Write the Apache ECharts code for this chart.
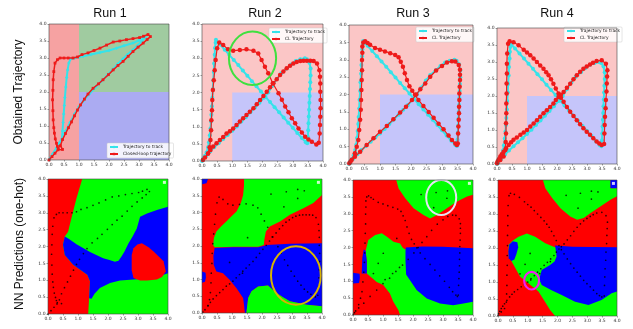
<!DOCTYPE html>
<html><head><meta charset="utf-8">
<script src="https://cdn.jsdelivr.net/npm/echarts@6/dist/echarts.min.js"></script>
<style>html,body{margin:0;padding:0;background:#fff}#c{width:633px;height:329px}</style>
</head><body><div id="c"></div>
<script>
// ---------------- DATA ----------------
const runTitles = ['Run 1', 'Run 2', 'Run 3', 'Run 4'];
const rowLabels = ['Obtained Trajectory', 'NN Predictions (one-hot)'];
const legendNamesRun1 = ['Trajectory to track', 'Closed-loop trajectory'];
const legendNamesOther = ['Trajectory to track', 'CL Trajectory'];

const refRun1 = [[0,0],[0.12,0.18],[0.25,0.36],[0.36,0.52],[0.43,0.62],[0.45,0.85],[0.47,1.1],[0.49,1.35],[0.51,1.6],[0.53,1.84],[0.56,2.15],[0.59,2.43],[0.62,2.65],[0.66,2.85],[0.72,2.97],[0.86,3.0],[1.0,3.03],[1.14,3.05],[1.4,3.1],[1.7,3.16],[2.0,3.22],[2.25,3.29],[2.5,3.36],[2.8,3.44],[3.0,3.52],[3.14,3.59],[3.22,3.62],[3.1,3.5],[2.95,3.37],[2.8,3.24],[2.62,3.1],[2.47,2.98],[2.3,2.83],[2.14,2.68],[1.95,2.5],[1.75,2.32],[1.55,2.14],[1.35,1.95],[1.15,1.74],[1.0,1.57],[0.85,1.35],[0.7,1.1],[0.55,0.85],[0.43,0.62],[0.3,0.42],[0.15,0.2],[0.02,0.02]];
const clRun1 = [[0,0],[0.1,0.1],[0.2,0.2],[0.3,0.3],[0.45,0.31],[0.38,0.42],[0.45,0.6],[0.55,0.78],[0.65,0.95],[0.75,1.12],[0.85,1.3],[0.95,1.47],[1.05,1.62],[1.18,1.79],[1.3,1.94],[1.47,2.11],[1.65,2.24],[1.8,2.36],[1.98,2.51],[2.14,2.65],[2.3,2.78],[2.47,2.9],[2.64,3.05],[2.8,3.19],[2.97,3.32],[3.14,3.44],[3.27,3.54],[3.38,3.63],[3.3,3.69],[3.15,3.64],[3.02,3.6],[2.8,3.57],[2.58,3.54],[2.36,3.5],[2.14,3.47],[1.92,3.38],[1.7,3.29],[1.5,3.22],[1.3,3.15],[1.1,3.1],[0.95,3.03],[0.8,3.0],[0.64,3.0],[0.5,3.0],[0.37,3.0],[0.28,2.95],[0.2,2.85],[0.16,2.6],[0.14,2.36],[0.13,2.05],[0.12,1.77],[0.13,1.45],[0.14,1.18],[0.16,0.95],[0.18,0.79],[0.21,0.62],[0.25,0.49],[0.28,0.4],[0.31,0.34]];

const refRuns234 = [[0,0],[0.05,0.08],[0.1,0.15],[0.15,0.25],[0.2,0.4],[0.23,0.55],[0.26,0.75],[0.28,0.95],[0.3,1.15],[0.31,1.35],[0.33,1.6],[0.34,1.85],[0.36,2.1],[0.37,2.35],[0.39,2.6],[0.4,2.85],[0.42,3.1],[0.43,3.3],[0.45,3.45],[0.46,3.54],[0.6,3.4],[0.75,3.25],[0.9,3.1],[1.05,2.95],[1.2,2.8],[1.35,2.64],[1.5,2.49],[1.65,2.33],[1.8,2.18],[1.95,2.03],[2.1,1.87],[2.25,1.72],[2.4,1.57],[2.55,1.42],[2.7,1.27],[2.85,1.12],[3.0,0.97],[3.15,0.82],[3.3,0.67],[3.43,0.55],[3.48,0.52],[3.5,0.7],[3.51,0.9],[3.52,1.1],[3.53,1.3],[3.54,1.5],[3.55,1.7],[3.56,1.9],[3.57,2.1],[3.58,2.3],[3.59,2.5],[3.59,2.7],[3.55,2.87],[3.47,2.97],[3.4,3.0],[3.25,2.97],[3.1,2.92],[2.95,2.82],[2.8,2.7],[2.62,2.56],[2.48,2.4],[2.33,2.2],[2.19,2.0],[2.05,1.85],[1.9,1.7],[1.75,1.56],[1.6,1.42],[1.45,1.28],[1.3,1.15],[1.15,1.01],[1.0,0.88],[0.85,0.76],[0.7,0.64],[0.55,0.52],[0.4,0.4],[0.27,0.28],[0.14,0.15],[0.03,0.03]];

const clRun2 = [[0.03,0.03],[0.1,0.1],[0.2,0.22],[0.25,0.4],[0.28,0.61],[0.3,0.9],[0.31,1.19],[0.33,1.48],[0.34,1.78],[0.36,2.07],[0.39,2.36],[0.42,2.65],[0.45,2.95],[0.5,3.29],[0.57,3.46],[0.7,3.39],[0.86,3.26],[1.03,3.22],[1.25,3.24],[1.47,3.26],[1.7,3.22],[1.86,3.14],[1.97,2.95],[2.08,2.75],[2.19,2.56],[2.34,2.27],[2.53,1.98],[2.64,1.79],[2.75,1.59],[2.86,1.42],[2.97,1.25],[3.08,1.1],[3.19,0.95],[3.3,0.83],[3.41,0.71],[3.52,0.63],[3.63,0.56],[3.78,0.48],[3.86,0.53],[3.89,0.8],[3.9,1.05],[3.91,1.29],[3.92,1.54],[3.92,1.78],[3.91,2.02],[3.91,2.26],[3.9,2.46],[3.88,2.65],[3.8,2.85],[3.69,2.92],[3.58,2.93],[3.47,2.93],[3.36,2.93],[3.25,2.92],[3.13,2.89],[3.02,2.85],[2.91,2.78],[2.8,2.71],[2.69,2.61],[2.58,2.51],[2.47,2.39],[2.36,2.27],[2.25,2.15],[2.14,2.02],[2.03,1.9],[1.92,1.78],[1.81,1.66],[1.7,1.54],[1.58,1.44],[1.47,1.34],[1.36,1.25],[1.25,1.15],[1.14,1.05],[1.03,0.95],[0.92,0.87],[0.81,0.8],[0.7,0.7],[0.59,0.61],[0.48,0.52],[0.37,0.42],[0.28,0.32],[0.2,0.22]];

const clRun3 = [[0.01,0.02],[0.09,0.12],[0.19,0.31],[0.25,0.5],[0.3,0.69],[0.33,0.98],[0.36,1.27],[0.38,1.56],[0.39,1.84],[0.4,2.13],[0.41,2.42],[0.42,2.7],[0.42,2.99],[0.43,3.2],[0.43,3.38],[0.46,3.5],[0.52,3.53],[0.6,3.48],[0.68,3.43],[0.84,3.34],[1.0,3.29],[1.16,3.24],[1.33,3.19],[1.49,3.14],[1.6,3.07],[1.67,2.94],[1.74,2.8],[1.8,2.61],[1.87,2.42],[1.95,2.24],[2.04,2.11],[2.13,1.99],[2.24,1.84],[2.4,1.67],[2.57,1.5],[2.73,1.33],[2.89,1.16],[3.05,1.0],[3.21,0.82],[3.32,0.69],[3.43,0.59],[3.48,0.55],[3.51,0.59],[3.52,0.88],[3.53,1.08],[3.54,1.27],[3.55,1.46],[3.55,1.65],[3.56,1.84],[3.56,2.03],[3.57,2.22],[3.58,2.42],[3.58,2.57],[3.58,2.71],[3.54,2.85],[3.43,2.95],[3.32,2.96],[3.16,2.92],[3.0,2.82],[2.81,2.69],[2.62,2.51],[2.46,2.32],[2.3,2.15],[2.17,2.0],[2.03,1.84],[1.84,1.65],[1.65,1.48],[1.43,1.29],[1.22,1.09],[1.0,0.93],[0.79,0.74],[0.57,0.55],[0.36,0.35],[0.19,0.21],[0.05,0.07]];

const clRun4 = [[0,0.02],[0.11,0.12],[0.22,0.22],[0.28,0.41],[0.29,0.65],[0.3,0.9],[0.3,1.2],[0.31,1.49],[0.31,1.78],[0.32,2.07],[0.32,2.37],[0.33,2.66],[0.33,2.95],[0.34,3.25],[0.37,3.54],[0.42,3.61],[0.55,3.58],[0.72,3.49],[0.89,3.36],[1.0,3.28],[1.11,3.2],[1.22,3.1],[1.33,3.0],[1.44,2.9],[1.55,2.8],[1.64,2.7],[1.72,2.61],[1.8,2.49],[1.88,2.36],[1.96,2.22],[2.05,2.07],[2.13,1.95],[2.22,1.83],[2.33,1.68],[2.44,1.54],[2.55,1.41],[2.66,1.29],[2.77,1.17],[2.88,1.05],[2.99,0.95],[3.1,0.86],[3.21,0.76],[3.32,0.66],[3.41,0.6],[3.49,0.56],[3.57,0.59],[3.58,0.9],[3.59,1.15],[3.6,1.39],[3.62,1.64],[3.63,1.88],[3.65,2.13],[3.66,2.37],[3.67,2.57],[3.68,2.76],[3.63,2.95],[3.49,3.05],[3.32,3.03],[3.2,2.98],[3.1,2.93],[2.99,2.87],[2.88,2.8],[2.77,2.71],[2.66,2.61],[2.55,2.49],[2.44,2.36],[2.33,2.24],[2.22,2.12],[2.13,2.04],[2.05,1.97],[1.96,1.88],[1.88,1.78],[1.77,1.68],[1.66,1.58],[1.55,1.49],[1.44,1.39],[1.33,1.29],[1.22,1.19],[1.11,1.1],[1.0,1.0],[0.89,0.93],[0.78,0.86],[0.66,0.78],[0.55,0.71],[0.47,0.64],[0.39,0.56],[0.3,0.46],[0.22,0.36],[0.16,0.29],[0.11,0.22],[0.06,0.14],[0.02,0.07]];

// isolated prediction-panel dots
const extraDotsRun1 = [];
const extraDotsRun2 = [[2.3,3.55],[2.81,3.62],[3.19,3.69],[3.41,3.65],[3.19,3.42],[2.73,3.17],[1.52,2.25],[0.92,1.51],[1.35,1.19]];
const extraDotsRun3 = [[2.27,3.57],[2.77,3.63],[3.15,3.68],[3.13,3.46],[2.69,3.18],[1.46,2.27],[1.01,1.83],[0.84,1.53],[0.68,1.23],[1.32,1.23],[1.07,1.05],[1.55,1.41]];
const extraDotsRun4 = [[2.29,3.55],[2.77,3.61],[3.14,3.67],[3.36,3.65],[3.14,3.44],[2.69,3.17],[1.08,1.84],[0.91,1.52],[0.74,1.24],[1.1,1.06],[1.4,1.25],[1.76,1.6]];
const cornerMarks = [[3.88,3.9]];

// top-row class regions [x0,y0,x1,y1,class]
const bgRun1 = [[0,0,1,4,'r'],[1,2,4,4,'g'],[1,0,4,2,'b']];
const bgRuns234 = [[0,0,4,4,'r'],[1,0,4,2,'b']];

// NN prediction regions: [class, polygon], painted in order
const predRun1 = [
 ['g', [[0,0],[4,0],[4,4],[0,4]]],
 ['r', [[0,0],[1.34,0],[1.37,0.47],[1.4,0.97],[1.31,1.16],[0.84,1.46],[0.56,1.75],[0.5,2.05],[0.56,2.3],[0.67,2.44],[0.78,2.84],[0.95,3.43],[1.14,4],[0,4]]],
 ['b', [[0.56,2.3],[0.5,2.05],[0.56,1.75],[0.84,1.46],[1.31,1.16],[1.4,0.97],[1.37,0.47],[1.45,0.45],[1.55,0.6],[1.73,0.77],[2.07,0.92],[2.4,0.99],[2.85,1.02],[3.4,1.06],[3.85,1.16],[4,1.21],[4,3.18],[3.63,3.08],[3.3,2.98],[3.07,2.88],[2.96,2.53],[2.82,2.3],[2.68,2.09],[2.55,1.85],[2.46,1.72],[2.35,1.58],[2.23,1.55],[2.05,1.6],[1.84,1.65],[1.4,1.84],[0.95,2.07],[0.7,2.22]]],
 ['r', [[2.79,1.75],[2.85,1.95],[2.98,2.06],[3.13,2.1],[3.35,1.98],[3.52,1.85],[3.7,1.7],[3.85,1.56],[3.93,1.26],[3.8,1.1],[3.63,1.02],[3.3,0.99],[3.07,0.99],[2.85,1.07],[2.79,1.3],[2.79,1.46]]]
];
const predRun2 = [
 ['r', [[0,0],[4,0],[4,4],[0,4]]],
 ['g', [[1.4,4],[4,4],[4,3.52],[3.71,3.28],[3.38,3.13],[2.93,2.93],[2.6,2.73],[2.26,2.58],[2.13,2.43],[2.08,2.2],[2.06,2.03],[1.87,1.98],[1.54,1.98],[1.04,1.98],[0.59,1.96],[0.42,1.96],[0.37,2.03],[0.4,2.25],[0.48,2.43],[0.65,2.6],[0.81,2.73],[1.0,2.9],[1.15,3.03],[1.3,3.3],[1.37,3.52],[1.4,3.8]]],
 ['b', [[0.42,1.94],[1.04,1.96],[1.54,1.96],[1.87,1.96],[2.06,2.0],[2.15,2.03],[2.93,2.07],[4,2.08],[4,0.2],[3.49,0.25],[2.93,0.35],[2.7,0.47],[2.48,0.6],[2.2,0.82],[1.87,0.79],[1.65,0.65],[1.54,0.45],[1.48,0],[1.43,0],[1.4,0.25],[1.37,0.45],[1.15,0.74],[0.92,0.99],[0.7,1.19],[0.48,1.24],[0.39,1.44],[0.38,1.7]]],
 ['g', [[1.48,0],[1.54,0.45],[1.65,0.65],[1.87,0.79],[2.2,0.82],[2.48,0.6],[2.7,0.47],[2.93,0.35],[3.49,0.25],[4,0.2],[4,0]]],
 ['b', [[0,0.9],[0.1,0.93],[0.13,1.05],[0.12,1.2],[0,1.24]]],
 ['b', [[0,3.84],[0.15,3.87],[0.2,4],[0,4]]]
];
const predRun3 = [
 ['r', [[0,0],[4,0],[4,4],[0,4]]],
 ['g', [[1.44,4],[4,4],[4,3.56],[3.8,3.51],[3.47,3.36],[3.13,3.16],[2.8,2.96],[2.57,2.86],[2.35,2.96],[2.02,3.16],[1.74,3.46],[1.52,3.75]]],
 ['g', [[0.46,1.23],[0.46,1.6],[0.42,1.9],[0.51,2.22],[0.74,2.37],[0.96,2.42],[1.13,2.32],[1.35,2.17],[1.57,2.12],[1.65,2.0],[1.72,1.95],[4,1.95],[4,0],[1.57,0],[1.51,0.15],[1.34,0.4],[1.23,0.64],[1.01,0.89],[0.79,0.98]]],
 ['b', [[1.76,2.0],[2.3,2.03],[3.0,2.02],[4,1.98],[4,0.39],[3.68,0.34],[3.34,0.29],[2.9,0.34],[2.46,0.49],[2.12,0.74],[1.9,1.03],[1.77,1.2],[1.75,1.6],[1.75,1.9]]],
 ['b', [[0,0.93],[0.2,0.95],[0.23,1.1],[0.22,1.22],[0,1.25]]],
 ['b', [[0.29,1.23],[0.46,1.23],[0.46,1.6],[0.42,1.9],[0.36,1.95],[0.31,1.7]]]
];
const predRun4 = [
 ['r', [[0,0],[4,0],[4,4],[0,4]]],
 ['g', [[1.51,4],[3.78,4],[3.78,3.76],[4,3.76],[4,3.52],[3.78,3.42],[3.44,3.22],[3.1,3.02],[2.88,2.88],[2.66,2.83],[2.43,2.93],[2.1,3.17],[1.82,3.47],[1.59,3.76]]],
 ['b', [[3.78,3.76],[4,3.76],[4,4],[3.78,4]]],
 ['g', [[0.46,1.6],[0.36,1.75],[0.36,2.1],[0.5,2.22],[0.69,2.33],[0.97,2.43],[1.25,2.33],[1.59,2.14],[1.87,2.04],[2.0,2.0],[4,2.0],[4,0],[1.92,0],[1.75,0.18],[1.58,0.42],[1.36,0.72],[1.02,0.96],[0.74,1.16]]],
 ['b', [[1.92,2.07],[2.5,2.04],[3.2,2.03],[4,2.02],[4,0.72],[3.82,0.67],[3.48,0.47],[3.04,0.32],[2.59,0.42],[2.14,0.62],[1.8,0.76],[1.47,0.91],[1.4,1.05],[1.41,1.16],[1.47,1.35],[1.75,1.5],[1.9,1.6],[1.97,1.75]]],
 ['b', [[0.36,1.7],[0.45,1.62],[0.55,1.66],[0.62,1.82],[0.68,2.02],[0.65,2.17],[0.5,2.2],[0.38,2.1],[0.35,1.9]]]
];

// annotation ellipses [cx, cy, rx, ry] in data units
const ellipseTopRun2 = [[1.67,3.0,0.78,0.78]];
const ellipseBotRun2 = [[3.13,1.12,0.83,0.87]];
const ellipseBotRun3 = [[2.94,3.48,0.5,0.52]];
const ellipseBotRun4 = [[1.13,1.04,0.25,0.26]];

// ---------------- STYLE / LAYOUT ----------------
const predColors = {r:'#ff0000', g:'#00ff00', b:'#0000ff'};
const bgColorsRun1 = {r:'#f6a2a2', g:'#a0cba0', b:'#ababf2'};
const bgColorsOther = {r:'#fbc6c6', b:'#c5c5fa'};
const cyan = '#35e3ea', red = '#ee1a1a';
const topBoxes = [[49,24,120,136],[202,24,121,137],[349,25,124,139],[497,28,120,136]];
const botBoxes = [[48,179,120,135],[202,179,120,134],[353,180,120,135],[498,180,119,136]];

const grids = [], xAxes = [], yAxes = [], series = [];
function axis(i) {
  return {type:'value', gridIndex:i, min:0, max:4, interval:0.5,
    axisLine:{show:false}, splitLine:{show:false},
    axisTick:{show:true, length:1.5, lineStyle:{color:'#444', width:0.5}},
    axisLabel:{fontSize:4.5, margin:2.5, color:'#333', fontFamily:'DejaVu Sans', formatter:v=>v.toFixed(1)}};
}
function addGrid(b) {
  const i = grids.length;
  grids.push({left:b[0], top:b[1], width:b[2], height:b[3], containLabel:false});
  xAxes.push(axis(i)); yAxes.push(axis(i));
  return i;
}
function polySeries(i, list, colors, z) {
  return {type:'custom', xAxisIndex:i, yAxisIndex:i, z:z, silent:true, animation:false, clip:true,
    data:list.map(()=>[0,0]),
    renderItem:(p, api) => {
      const it = list[p.dataIndex];
      return {type:'polygon', shape:{points:it[1].map(q=>api.coord(q))}, style:{fill:colors[it[0]]}};
    }};
}
function rectsToPolys(rects) { return rects.map(r => [r[4], [[r[0],r[1]],[r[2],r[1]],[r[2],r[3]],[r[0],r[3]]]]); }
function frameSeries(i) {
  return {type:'custom', xAxisIndex:i, yAxisIndex:i, z:20, silent:true, animation:false, data:[[0,0]],
    renderItem:(p, api) => {
      const a = api.coord([0,4]), b = api.coord([4,0]);
      return {type:'rect', shape:{x:a[0], y:a[1], width:b[0]-a[0], height:b[1]-a[1]}, style:{fill:'none', stroke:'#444', lineWidth:0.6}};
    }};
}
function ellipseSeries(i, list, color, w) {
  return {type:'custom', xAxisIndex:i, yAxisIndex:i, z:15, silent:true, animation:false, clip:false,
    data:list.map(()=>[0,0]),
    renderItem:(p, api) => {
      const e = list[p.dataIndex];
      const c = api.coord([e[0], e[1]]), r = api.coord([e[0]+e[2], e[1]+e[3]]);
      return {type:'ellipse', shape:{cx:c[0], cy:c[1], rx:Math.abs(r[0]-c[0]), ry:Math.abs(r[1]-c[1])}, style:{fill:'none', stroke:color, lineWidth:w}};
    }};
}
function lineSeries(i, name, data, color, width, symbol, size, z) {
  return {type:'line', name:name, xAxisIndex:i, yAxisIndex:i, data:data, z:z, silent:true, animation:false,
    showSymbol:true, showAllSymbol:true, symbol:symbol, symbolSize:size,
    lineStyle:{color:color, width:width}, itemStyle:{color:color}};
}

const clRuns = [clRun1, clRun2, clRun3, clRun4];
const refRuns = [refRun1, refRuns234, refRuns234, refRuns234];
const extraDots = [extraDotsRun1, extraDotsRun2, extraDotsRun3, extraDotsRun4];
const preds = [predRun1, predRun2, predRun3, predRun4];

// top row (run 1 added last so legend icons follow runs 2-4 style)
[1,2,3,0].forEach(k => {
  const i = addGrid(topBoxes[k]);
  const bg = k === 0 ? rectsToPolys(bgRun1) : rectsToPolys(bgRuns234);
  series.push(polySeries(i, bg, k === 0 ? bgColorsRun1 : bgColorsOther, 1));
  if (k === 0) {
    series.push(lineSeries(i, legendNamesRun1[0], refRuns[k], cyan, 2, 'diamond', 3.5, 3));
    series.push(lineSeries(i, legendNamesRun1[1], clRuns[k], red, 1.5, 'rect', 2.8, 4));
  } else {
    series.push(lineSeries(i, legendNamesOther[0], refRuns[k], cyan, 2, 'circle', 4, 3));
    series.push(lineSeries(i, legendNamesOther[1], clRuns[k], red, 1.2, 'circle', 4.5, 4));
  }
  if (k === 1) series.push(ellipseSeries(i, ellipseTopRun2, '#3fe03f', 2));
  series.push(frameSeries(i));
});
// bottom row
const botEllipses = [null, [ellipseBotRun2,'#d8b300',2], [ellipseBotRun3,'#e4e4f0',2], [ellipseBotRun4,'#ef1fef',2.2]];
[0,1,2,3].forEach(k => {
  const i = addGrid(botBoxes[k]);
  series.push(polySeries(i, preds[k], predColors, 1));
  series.push({type:'scatter', xAxisIndex:i, yAxisIndex:i, data:clRuns[k].concat(extraDots[k]), symbolSize:1.7,
    itemStyle:{color:'#000'}, z:5, silent:true, animation:false});
  series.push({type:'scatter', xAxisIndex:i, yAxisIndex:i, data:cornerMarks, symbol:'rect', symbolSize:3,
    itemStyle:{color:'#fff'}, z:6, silent:true, animation:false});
  if (botEllipses[k]) series.push(ellipseSeries(i, botEllipses[k][0], botEllipses[k][1], botEllipses[k][2]));
  series.push(frameSeries(i));
});

const legendBase = {orient:'vertical', itemWidth:8, itemHeight:3, itemGap:3, padding:[2,2,2,2],
  backgroundColor:'rgba(255,255,255,0.85)', borderColor:'#c8c8c8', borderWidth:0.5, borderRadius:1,
  selectedMode:false, textStyle:{fontSize:4.4, fontFamily:'DejaVu Sans', color:'#222'}};
const legendPos = [[107,143],[269,28],[416,27],[564,27]];
const legends = legendPos.map((p, k) => Object.assign({}, legendBase, {left:p[0], top:p[1], data: k === 0 ? legendNamesRun1 : legendNamesOther}));

const titleX = [110, 265, 413, 557];
const graphic = titleX.map((x, k) => ({type:'text', x:x, y:14, silent:true,
  style:{text:runTitles[k], font:'12.5px "Liberation Sans"', fill:'#111', textAlign:'center', textVerticalAlign:'middle'}}));
graphic.push({type:'text', x:19, y:92, rotation:Math.PI/2, silent:true,
  style:{text:rowLabels[0], font:'12px "Liberation Sans"', fill:'#111', textAlign:'center', textVerticalAlign:'middle'}});
graphic.push({type:'text', x:20, y:244, rotation:Math.PI/2, silent:true,
  style:{text:rowLabels[1], font:'12px "Liberation Sans"', fill:'#111', textAlign:'center', textVerticalAlign:'middle'}});

const chart = echarts.init(document.getElementById('c'), null, {renderer:'canvas'});
chart.setOption({animation:false, backgroundColor:'#fff', grid:grids, xAxis:xAxes, yAxis:yAxes,
  series:series, legend:legends, graphic:graphic});
</script></body></html>
